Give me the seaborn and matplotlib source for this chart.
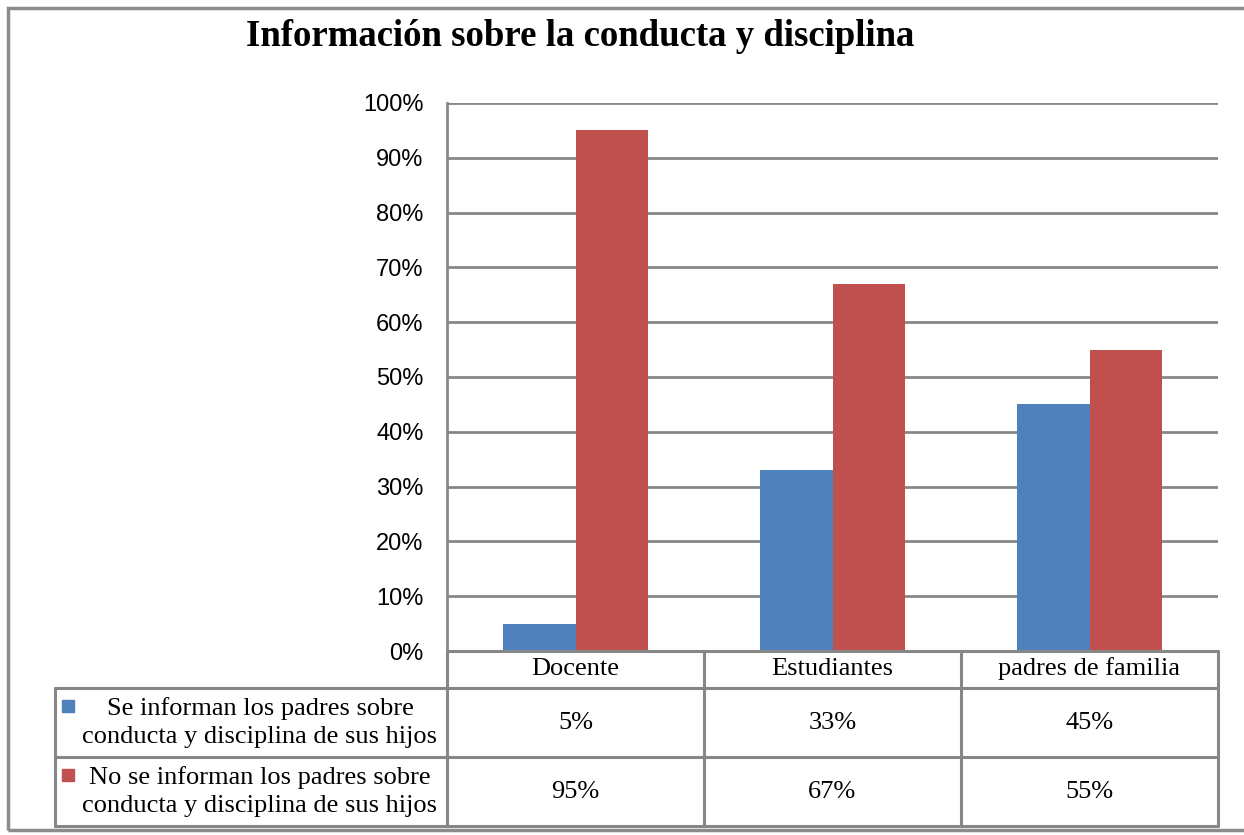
import numpy as np
import pandas as pd
import matplotlib
matplotlib.use("Agg")
import matplotlib.pyplot as plt
import seaborn as sns
from matplotlib.patches import Rectangle

categories = ["Docente", "Estudiantes", "padres de familia"]
series = ["Se informan los padres sobre\nconducta y disciplina de sus hijos",
          "No se informan los padres sobre\nconducta y disciplina de sus hijos"]
se_informan = [5, 33, 45]
no_se_informan = [95, 67, 55]
yticks = [0, 10, 20, 30, 40, 50, 60, 70, 80, 90, 100]
colors = ["#4F81BD", "#C0504D"]
title = "Información sobre la conducta y disciplina"

df = pd.DataFrame({
    "cat": categories * 2,
    "serie": [series[0]] * 3 + [series[1]] * 3,
    "val": se_informan + no_se_informan,
})

sns.set_style("white")
plt.rcParams['font.family'] = ['Liberation Serif', 'DejaVu Serif']
plt.rcParams['text.color'] = 'black'
plt.rcParams['ytick.color'] = 'black'

W, H = 1244, 835
fig = plt.figure(figsize=(W / 100, H / 100), dpi=100)
# axes box in pixels: x 447..1218, y 103..651
ax = fig.add_axes([447 / W, 1 - 651 / H, (1218 - 447) / W, (651 - 103) / H])

grid_c = "#878787"
sns.barplot(data=df, x="cat", y="val", hue="serie", palette=colors,
            width=0.568, ax=ax, legend=False, saturation=1, linewidth=0, zorder=3)
ax.set_ylim(0, 100)
ax.set_xlim(-0.5, 2.5)
ax.set_yticks(yticks)
ax.set_yticklabels([f"{v}%" for v in yticks], family="Liberation Sans", fontsize=17)
ax.tick_params(axis="y", length=0, pad=17)
ax.set_xticks([])
ax.set_xlabel("")
ax.set_ylabel("")
for v in yticks:
    ax.axhline(v, color=grid_c, lw=2, zorder=1)
for s in ["top", "right", "bottom"]:
    ax.spines[s].set_visible(False)
ax.spines["left"].set_color(grid_c)
ax.spines["left"].set_linewidth(2)

# title
fig.text(580 / W, 1 - 36 / H, title, ha="center", va="center",
         fontsize=26.5, fontweight="bold")

# data table below the axes (pixel coordinates)
def px(x, y):
    return x / W, 1 - y / H

lw = 2.2
cols = [447, 704, 961, 1218]
rows = [651, 688, 757, 826]
def hline(y, x0, x1):
    fig.add_artist(plt.Line2D([x0 / W, x1 / W], [1 - y / H, 1 - y / H],
                              color=grid_c, lw=lw))
def vline(x, y0, y1):
    fig.add_artist(plt.Line2D([x / W, x / W], [1 - y0 / H, 1 - y1 / H],
                              color=grid_c, lw=lw))

hline(651, 447, 1218)
for y in rows[1:]:
    hline(y, 55, 1218)
for x in cols:
    vline(x, 651, 826)
vline(55, 688, 826)

fs = 19
for i, c in enumerate(categories):
    xc = (cols[i] + cols[i + 1]) / 2
    fig.text(*px(xc, 669), c, ha="center", va="center", fontsize=fs)
    fig.text(*px(xc, 723), f"{se_informan[i]}%", ha="center", va="center", fontsize=fs)
    fig.text(*px(xc, 792), f"{no_se_informan[i]}%", ha="center", va="center", fontsize=fs)

for j, (s, col) in enumerate(zip(series, colors)):
    yc = (rows[j + 1] + rows[j + 2]) / 2
    fig.add_artist(Rectangle(px(62, yc - 17 + 6), 12 / W, 12 / H, color=col,
                             transform=fig.transFigure))
    fig.text(*px(260, yc), s, ha="center", va="center", fontsize=fs,
             linespacing=1.35)

# outer chart border
fig.add_artist(Rectangle((8 / W, 1 - 830 / H), 1.05, (830 - 8) / H,
                         fill=False, edgecolor="#8c8c8c", lw=2.5,
                         transform=fig.transFigure, clip_on=False))

fig.savefig("out.png", dpi=100)
